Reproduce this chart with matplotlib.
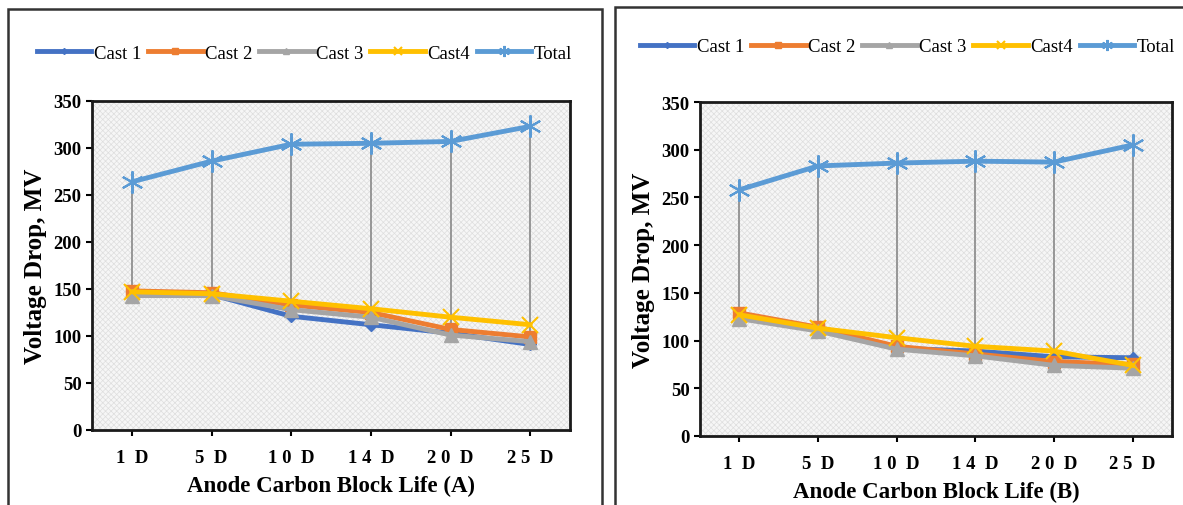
import matplotlib
matplotlib.use("Agg")
from matplotlib import pyplot as plt
from matplotlib.patches import Rectangle
import numpy as np

plt.rcParams['font.family'] = ['Liberation Serif', 'DejaVu Serif']
plt.rcParams['font.weight'] = 'bold'
plt.rcParams['hatch.linewidth'] = 0.5

categories = ["1  D", "5  D", "1 0  D", "1 4  D", "2 0  D", "2 5  D"]
series_names = ["Cast 1", "Cast 2", "Cast 3", "Cast4", "Total"]

# panel A
cast1_a = [145, 144, 121, 112, 103, 91]
cast2_a = [148, 146, 133, 125, 107, 99]
cast3_a = [143, 143, 128, 120, 101, 94]
cast4_a = [147, 145, 137, 129, 120, 112]
total_a = [264, 286, 304, 305, 307, 323]

# panel B
cast1_b = [125, 111, 92, 89, 83, 82]
cast2_b = [129, 114, 94, 86, 78, 75]
cast3_b = [123, 110, 91, 84, 74, 71]
cast4_b = [127, 113, 103, 94, 89, 74]
total_b = [258, 283, 286, 288, 287, 305]

colors = ["#4472C4", "#ED7D31", "#A5A5A5", "#FFC000", "#5B9BD5"]
markers = ["D", "s", "^", "x", (6, 2, 0)]
msizes = [6, 9, 10, 12, 16]

W, H = 1183, 506
fig = plt.figure(figsize=(W / 100, H / 100), dpi=100)


def px_box(x0, y0, x1, y1):
    # pixel box (top-left origin) -> figure fraction rect
    return [x0 / W, 1 - y1 / H, (x1 - x0) / W, (y1 - y0) / H]


# outer frames
for x0, y0, x1, y1 in [(8, 10, 602, 520), (615, 8, 1195, 520)]:
    l, b, w, h = px_box(x0, y0, x1, y1)
    fig.add_artist(Rectangle((l, b), w, h, transform=fig.transFigure,
                             fill=False, edgecolor="#333333", linewidth=1.8))


def draw_panel(ax, data, xlabel, leg_x, leg_y):
    x = np.arange(len(categories))
    bg = Rectangle((0, 0), 1, 1, transform=ax.transAxes, facecolor="#f6f6f6",
                   edgecolor="#dedede", hatch="xxxxxx", linewidth=0, zorder=0)
    ax.add_patch(bg)
    arr = np.array(data)
    ax.vlines(x, arr.min(axis=0), arr.max(axis=0), color="#7f7f7f",
              linewidth=1.1, zorder=1)
    for vals, name, c, m, ms in zip(data, series_names, colors, markers, msizes):
        ax.plot(x, vals, color=c, linewidth=3.5, marker=m, markersize=ms,
                markeredgewidth=1.5 if m == "x" or m == (6, 2, 0) else 1,
                markeredgecolor=c, label=name, zorder=3)
    ax.set_xlim(-0.5, 5.5)
    ax.set_ylim(0, 350)
    ax.set_yticks(range(0, 351, 50))
    ax.set_xticks(x)
    ax.set_xticklabels(categories)
    ax.tick_params(axis="both", labelsize=13.5, width=1.5, length=4, direction="out")
    ax.tick_params(axis="x", pad=10)
    for s in ax.spines.values():
        s.set_linewidth(2)
        s.set_color("#1a1a1a")
    ax.set_ylabel("Voltage Drop, MV", fontsize=18, fontweight="bold", labelpad=5)
    ax.set_xlabel(xlabel, fontsize=16.5, fontweight="bold", labelpad=6)
    ax.legend(loc="center", bbox_to_anchor=(leg_x, leg_y), ncol=5, frameon=False,
              prop={"size": 13.5, "weight": "normal"}, handlelength=2.9,
              handletextpad=0.15, columnspacing=0.35, markerscale=0.5)


ax1 = fig.add_axes(px_box(92, 102, 570, 431))
draw_panel(ax1, [cast1_a, cast2_a, cast3_a, cast4_a, total_a],
           "Anode Carbon Block Life (A)", 0.445, 1.145)

ax2 = fig.add_axes(px_box(700, 103, 1172, 437))
draw_panel(ax2, [cast1_b, cast2_b, cast3_b, cast4_b, total_b],
           "Anode Carbon Block Life (B)", 0.44, 1.165)

fig.savefig("out.png", dpi=100)
